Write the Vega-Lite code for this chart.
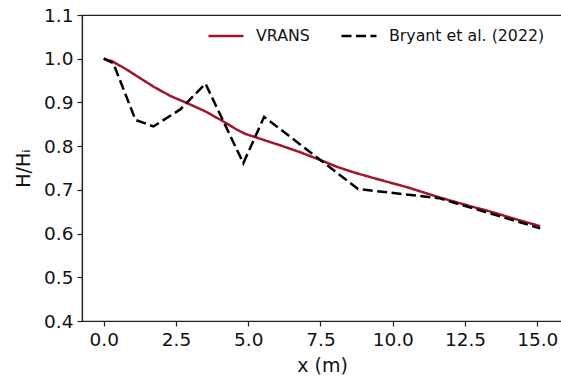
{
  "$schema": "https://vega.github.io/schema/vega-lite/v6.json",
  "width": 480,
  "height": 306,
  "autosize": {"type": "none"},
  "padding": {"left": 82, "top": 15, "right": 0, "bottom": 56},
  "background": "white",
  "config": {
    "font": "DejaVu Sans",
    "view": {"stroke": "#222", "strokeWidth": 1.2},
    "axis": {
      "grid": false,
      "domainColor": "#222",
      "domainWidth": 1.2,
      "tickColor": "#222",
      "tickWidth": 1.2,
      "tickSize": 5,
      "labelFont": "DejaVu Sans",
      "labelFontSize": 18.5,
      "labelColor": "#111",
      "labelPadding": 4,
      "titleFont": "DejaVu Sans",
      "titleFontSize": 19,
      "titleFontWeight": "normal",
      "titleColor": "#111"
    }
  },
  "data": {
    "values": [
      {"series": "VRANS", "x": 0.0, "h": 1.0},
      {"series": "VRANS", "x": 0.3, "h": 0.994},
      {"series": "VRANS", "x": 0.8, "h": 0.975},
      {"series": "VRANS", "x": 1.2, "h": 0.958},
      {"series": "VRANS", "x": 1.75, "h": 0.935},
      {"series": "VRANS", "x": 2.3, "h": 0.915},
      {"series": "VRANS", "x": 2.9, "h": 0.898},
      {"series": "VRANS", "x": 3.5, "h": 0.88},
      {"series": "VRANS", "x": 4.1, "h": 0.858},
      {"series": "VRANS", "x": 4.6, "h": 0.838},
      {"series": "VRANS", "x": 4.9, "h": 0.828},
      {"series": "VRANS", "x": 5.5, "h": 0.815},
      {"series": "VRANS", "x": 6.1, "h": 0.802},
      {"series": "VRANS", "x": 6.8, "h": 0.786},
      {"series": "VRANS", "x": 7.5, "h": 0.768},
      {"series": "VRANS", "x": 8.1, "h": 0.752},
      {"series": "VRANS", "x": 8.7, "h": 0.739},
      {"series": "VRANS", "x": 9.5, "h": 0.724},
      {"series": "VRANS", "x": 10.5, "h": 0.706},
      {"series": "VRANS", "x": 11.6, "h": 0.683},
      {"series": "VRANS", "x": 12.5, "h": 0.666},
      {"series": "VRANS", "x": 13.5, "h": 0.648},
      {"series": "VRANS", "x": 14.3, "h": 0.632},
      {"series": "VRANS", "x": 15.1, "h": 0.617},
      {"series": "Bryant et al. (2022)", "x": 0.0, "h": 1.0},
      {"series": "Bryant et al. (2022)", "x": 0.33, "h": 0.99},
      {"series": "Bryant et al. (2022)", "x": 1.1, "h": 0.86},
      {"series": "Bryant et al. (2022)", "x": 1.72, "h": 0.845},
      {"series": "Bryant et al. (2022)", "x": 2.65, "h": 0.884},
      {"series": "Bryant et al. (2022)", "x": 3.52, "h": 0.943},
      {"series": "Bryant et al. (2022)", "x": 4.83, "h": 0.761},
      {"series": "Bryant et al. (2022)", "x": 5.55, "h": 0.867},
      {"series": "Bryant et al. (2022)", "x": 5.75, "h": 0.857},
      {"series": "Bryant et al. (2022)", "x": 8.8, "h": 0.702},
      {"series": "Bryant et al. (2022)", "x": 11.6, "h": 0.681},
      {"series": "Bryant et al. (2022)", "x": 15.1, "h": 0.612}
    ]
  },
  "encoding": {
    "x": {
      "field": "x",
      "type": "quantitative",
      "scale": {"domain": [-0.751, 15.855], "nice": false, "zero": false},
      "axis": {"values": [0, 2.5, 5, 7.5, 10, 12.5, 15], "format": ".1f", "title": "x (m)", "titlePadding": 8}
    },
    "y": {
      "field": "h",
      "type": "quantitative",
      "scale": {"domain": [0.4, 1.1], "nice": false, "zero": false},
      "axis": {"values": [0.4, 0.5, 0.6, 0.7, 0.8, 0.9, 1.0, 1.1], "format": ".1f", "title": "H/Hᵢ", "titlePadding": 10}
    },
    "color": {
      "field": "series",
      "type": "nominal",
      "scale": {"domain": ["VRANS", "Bryant et al. (2022)"], "range": ["#A2142F", "#000000"]},
      "legend": {
        "title": null,
        "orient": "none",
        "legendX": 125,
        "legendY": 2,
        "direction": "horizontal",
        "symbolType": "stroke",
        "symbolSize": 1225,
        "symbolStrokeWidth": 2.5,
        "labelFont": "DejaVu Sans",
        "labelFontSize": 15.8,
        "labelColor": "#111",
        "labelOffset": 11,
        "columnPadding": 26,
        "padding": 0
      }
    },
    "strokeDash": {
      "field": "series",
      "type": "nominal",
      "scale": {"domain": ["VRANS", "Bryant et al. (2022)"], "range": [[1, 0], [10, 4.5]]},
      "legend": null
    }
  },
  "layer": [
    {
      "transform": [{"filter": "datum.series === 'VRANS'"}],
      "mark": {"type": "line", "strokeWidth": 2.5, "clip": true}
    },
    {
      "transform": [{"filter": "datum.series !== 'VRANS'"}],
      "mark": {"type": "line", "strokeWidth": 2.5, "clip": true}
    }
  ]
}
